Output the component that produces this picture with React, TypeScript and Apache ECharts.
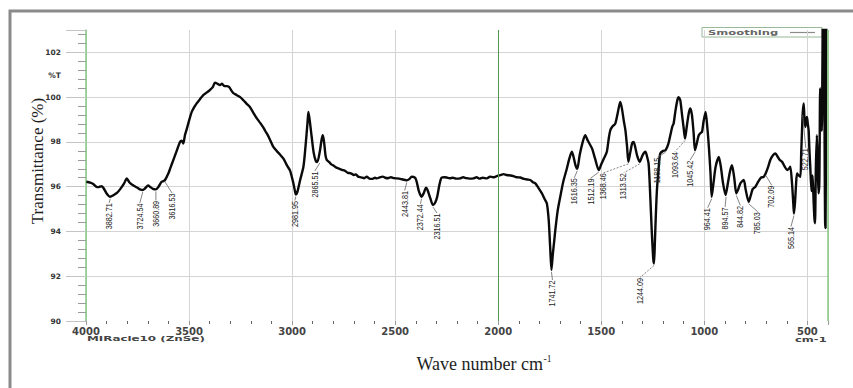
import React, { useEffect, useRef } from 'react';
import * as echarts from 'echarts';

// ---- Spectrum (wavenumber cm-1, transmittance %) ----
const waveNumbers = [
  3998, 3980, 3965, 3950, 3940, 3925, 3916, 3900, 3882.71, 3867, 3850, 3835, 3815, 3802, 3790, 3770, 3750, 3738,
  3724.54, 3714, 3698, 3690, 3675, 3660.89, 3648, 3633, 3625, 3616.53, 3600, 3590, 3576, 3560, 3544, 3535, 3528,
  3520, 3512, 3500, 3487, 3475, 3463, 3448, 3430, 3415, 3398, 3385, 3374, 3362, 3350, 3340, 3330, 3317, 3305,
  3295, 3285, 3270, 3252, 3235, 3220, 3204, 3188, 3171, 3155, 3140, 3131, 3115, 3100, 3091, 3075, 3060, 3042,
  3025, 3010, 2995, 2985, 2981.95, 2975, 2961, 2945, 2935, 2925, 2921, 2915, 2905, 2895, 2885, 2878, 2865, 2857,
  2851, 2845, 2838, 2832, 2820, 2810, 2800, 2785, 2770, 2759, 2745, 2730, 2715, 2700, 2690, 2680, 2665, 2650,
  2638, 2625, 2610, 2598, 2589, 2575, 2560, 2548, 2535, 2520, 2505, 2492, 2475, 2462, 2451, 2443.81, 2430, 2420,
  2411, 2402, 2395, 2385, 2372.44, 2362, 2350, 2343, 2330, 2316.51, 2305, 2295, 2285, 2275, 2260, 2250, 2235,
  2220, 2205, 2185, 2170, 2155, 2140, 2120, 2105, 2090, 2075, 2055, 2040, 2025, 2007, 1990, 1974, 1960, 1940,
  1926, 1910, 1893, 1875, 1860, 1845, 1832, 1820, 1805, 1788, 1775, 1764, 1755, 1748, 1741.72, 1735, 1728, 1723,
  1712, 1699, 1685, 1667, 1655, 1643, 1635, 1625, 1616.35, 1605, 1590, 1578, 1565, 1545, 1530, 1512.19, 1500,
  1485, 1473, 1463, 1456, 1445, 1432, 1420, 1408, 1400, 1390, 1383, 1375, 1368.46, 1360, 1350, 1343, 1335, 1325,
  1313.52, 1300, 1286, 1278, 1270, 1262, 1255, 1248, 1244.09, 1240, 1235, 1230, 1222, 1214, 1200, 1188.15, 1175,
  1165, 1155, 1149, 1140, 1130, 1125, 1117, 1108, 1100, 1093.64, 1085, 1075, 1068, 1060, 1052, 1045.42, 1035,
  1027, 1018, 1011, 1004, 994, 986, 978, 970, 964.41, 955, 945, 930, 920, 910, 897, 885, 875, 866, 855, 844.82,
  835, 825, 809, 800, 785.03, 775, 765, 752, 740, 725, 712, 702.09, 690, 680, 667, 655, 645, 635, 623, 610, 598,
  590, 583, 575, 568, 565.14, 560, 555, 550, 542, 534, 530, 526, 522.71, 518, 514, 510, 506, 502, 498, 494, 490,
  486, 480, 475, 470, 466, 463, 459, 454, 450, 446, 442, 438, 434, 430, 427, 424, 420, 416, 414, 412, 410, 407,
  403, 400,
];
const transmittance = [
  96.22, 96.18, 96.12, 96.0, 95.98, 96.02, 95.95, 95.7, 95.55, 95.62, 95.72, 95.88, 96.15, 96.37, 96.2, 96.05,
  95.95, 95.88, 95.85, 95.92, 96.05, 96.0, 95.9, 95.88, 96.0, 96.22, 96.25, 96.3, 96.6, 96.85, 97.2, 97.6, 98.0,
  98.05, 97.93, 98.3, 98.55, 98.95, 99.34, 99.55, 99.72, 99.9, 100.1, 100.2, 100.33, 100.45, 100.65, 100.6,
  100.54, 100.6, 100.5, 100.49, 100.45, 100.3, 100.18, 100.1, 100.0, 99.85, 99.7, 99.55, 99.3, 99.05, 98.85,
  98.65, 98.5, 98.25, 97.95, 97.78, 97.6, 97.45, 97.25, 96.95, 96.72, 96.2, 95.75, 95.65, 95.75, 96.3, 96.9,
  97.8, 98.9, 99.34, 99.0, 98.22, 97.5, 97.15, 97.1, 97.6, 98.1, 98.3, 98.0, 97.4, 97.2, 97.1, 97.0, 96.95,
  96.85, 96.8, 96.75, 96.72, 96.62, 96.6, 96.52, 96.55, 96.45, 96.42, 96.38, 96.45, 96.36, 96.35, 96.4, 96.37,
  96.42, 96.45, 96.4, 96.38, 96.42, 96.38, 96.37, 96.35, 96.32, 96.3, 96.28, 96.35, 96.45, 96.44, 96.38, 96.2,
  95.8, 95.55, 95.7, 95.95, 95.85, 95.5, 95.18, 95.3, 95.6, 96.1, 96.4, 96.42, 96.41, 96.38, 96.4, 96.36, 96.37,
  96.42, 96.38, 96.36, 96.37, 96.42, 96.36, 96.4, 96.37, 96.45, 96.42, 96.47, 96.52, 96.56, 96.52, 96.5, 96.47,
  96.42, 96.41, 96.35, 96.32, 96.3, 96.2, 96.15, 95.95, 95.7, 95.45, 95.25, 94.5, 93.3, 92.28, 93.0, 93.6, 94.06,
  94.9, 95.55, 96.2, 96.81, 97.25, 97.56, 97.35, 96.95, 96.8, 97.4, 98.0, 98.3, 98.05, 97.71, 97.25, 96.74, 97.0,
  97.3, 97.56, 98.2, 98.53, 98.7, 98.82, 99.3, 99.79, 99.5, 98.9, 98.53, 97.8, 97.11, 97.5, 97.95, 98.0, 97.75,
  97.35, 97.11, 97.4, 97.56, 97.35, 97.0, 95.5, 94.0, 92.8, 92.57, 93.5, 94.8, 95.85, 96.8, 97.48, 97.6, 97.63,
  97.9, 98.3, 98.7, 98.82, 99.4, 99.9, 100.0, 99.87, 99.2, 98.6, 98.15, 98.7, 99.3, 99.49, 99.2, 98.4, 97.63,
  98.0, 98.3, 98.4, 98.45, 98.9, 99.34, 98.7, 97.78, 96.6, 95.55, 96.2, 96.9, 97.33, 96.9, 96.2, 95.63, 96.2,
  96.7, 96.96, 96.4, 95.7, 95.9, 96.15, 96.3, 95.9, 95.33, 95.6, 95.9, 96.0, 96.2, 96.4, 96.44, 96.6, 96.9,
  97.19, 97.4, 97.48, 97.35, 97.2, 97.11, 96.9, 96.74, 96.8, 96.89, 96.2, 95.2, 94.8, 95.3, 96.1, 96.59, 96.5,
  96.44, 97.5, 98.53, 99.3, 99.72, 99.0, 98.67, 99.0, 99.12, 98.8, 98.53, 97.6, 96.89, 95.8, 96.5, 95.4, 94.6,
  94.37, 96.8, 98.3, 97.0, 95.7, 96.2, 100.4, 99.0, 98.5, 101.5, 104, 104, 97, 94.4, 94.15, 98, 104, 104, 104,
];

// ---- Peak annotations (wavenumber, transmittance at the peak) ----
const peakWaves = [
  3882.71, 3724.54, 3660.89, 3616.53, 2981.95, 2865.51, 2443.81, 2372.44, 2316.51, 1741.72, 1616.35, 1512.19,
  1368.46, 1313.52, 1244.09, 1188.15, 1093.64, 1045.42, 964.41, 894.57, 844.82, 785.03, 702.09, 565.14, 522.71,
];
const peakTrans = [
  95.55, 95.85, 95.88, 96.3, 95.65, 97.15, 96.28, 95.55, 95.18, 92.28, 96.8, 96.74, 97.11, 97.11, 92.57, 97.63,
  98.15, 97.63, 95.55, 95.63, 95.7, 95.33, 96.6, 94.8, 99.3,
];

// ---- Axis ticks ----
const yTickLabels = ['90', '92', '94', '96', '98', '100', '102'];
const xTickLabels = ['500', '1000', '1500', '2000', '2500', '3000', '3500', '4000'];

// layout of the peak labels: [dx, dy, dashed leader]
const labelLayout: [number, number, number][] = [
  [-1, 6, 0], [-3, 13, 0], [0, 11, 0], [7, 13, 0], [-1, 6, 0], [-5, 10, 0], [-2, 10, 0], [-1, 7, 0], [4, 8, 0],
  [1, 10, 0], [-3, 9, 0], [-8, 8, 0], [-25, 11, 1], [-16, 11, 1], [-14, 14, 1], [-8, 7, 0], [-10, 13, 1],
  [-5, 10, 0], [-4, 11, 0], [-1, 12, 0], [4, 12, 0], [9, 10, 0], [6, 12, 0], [-3, 13, 0], [3, 35, 0],
];

const GREEN_DARK = '#4f9a4f';
const GREEN_LIGHT = '#86c986';
const labelFont = "'Liberation Sans', 'DejaVu Sans', sans-serif";

export default function App() {
  const ref = useRef<HTMLDivElement>(null);
  useEffect(() => {
    const chart = echarts.init(ref.current as HTMLDivElement, undefined, { renderer: 'svg' });
    const spectrum = waveNumbers.map((w, i) => [w, transmittance[i]]);
    const peaks = peakWaves.map((w, i) => [w, peakTrans[i], i]);
    const option: any = {
      animation: false,
      backgroundColor: '#ffffff',
      grid: { left: 86, right: 25, top: 30, bottom: 67, containLabel: false, outerBoundsMode: 'none' },
      xAxis: {
        type: 'value',
        inverse: true,
        min: 400,
        max: 4000,
        splitNumber: 7,
        axisLine: { show: false },
        axisTick: { show: true, length: 4, lineStyle: { color: '#999' } },
        minorTick: { show: true, splitNumber: 5, length: 3, lineStyle: { color: '#666' } },
        splitLine: { show: true, lineStyle: { color: '#d4d4d4', width: 1 } },
        axisLabel: {
          margin: 5,
          fontSize: 10,
          fontWeight: 'bold',
          fontFamily: 'DejaVu Sans',
          color: '#444',
          formatter: (v: number) => (xTickLabels.indexOf(String(v)) >= 0 ? String(v) : ''),
        },
      },
      yAxis: {
        type: 'value',
        min: 90,
        max: 103,
        interval: 2,
        axisLine: { show: true, lineStyle: { color: GREEN_LIGHT, width: 1.5 } },
        axisTick: { show: true, length: 20, lineStyle: { color: '#c4c4c4' } },
        minorTick: { show: true, splitNumber: 5, length: 8, lineStyle: { color: '#9a9a9a' } },
        splitLine: { show: true, showMinLine: false, showMaxLine: false, lineStyle: { color: '#d4d4d4', width: 1 } },
        axisLabel: {
          margin: 25,
          fontSize: 7.5,
          fontWeight: 'bold',
          fontFamily: 'DejaVu Sans',
          color: '#333',
          showMaxLabel: false,
          formatter: (v: number) => (yTickLabels.indexOf(String(v)) >= 0 ? String(v) : ''),
        },
      },
      series: [
        {
          name: 'Smoothing',
          type: 'line',
          data: spectrum,
          showSymbol: false,
          symbol: 'none',
          smooth: 0.25,
          lineStyle: { color: '#0a0a0a', width: 2.4 },
          z: 3,
          markLine: {
            silent: true,
            symbol: 'none',
            label: { show: false },
            animation: false,
            data: [
              { xAxis: 2000, lineStyle: { color: GREEN_DARK, width: 1, type: 'solid' } },
              { xAxis: 400, lineStyle: { color: GREEN_LIGHT, width: 1.5, type: 'solid' } },
            ],
          },
        },
        {
          name: 'peaks',
          type: 'custom',
          data: peaks,
          clip: false,
          z: 4,
          encode: { x: 0, y: 1 },
          renderItem: (params: any, api: any) => {
            const i = params.dataIndex;
            const p = api.coord([api.value(0), api.value(1)]);
            const [dx, dy, dashed] = labelLayout[i];
            const lx = p[0] + dx;
            const ly = p[1] + dy;
            return {
              type: 'group',
              children: [
                {
                  type: 'line',
                  shape: { x1: p[0], y1: p[1] + 2, x2: lx, y2: ly },
                  style: { stroke: '#666', lineWidth: 0.8, lineDash: dashed ? [2, 1.5] : null },
                },
                {
                  type: 'text',
                  x: lx,
                  y: ly + 0.5,
                  rotation: Math.PI / 2,
                  scaleX: 0.8,
                  style: {
                    text: peakWaves[i].toFixed(2),
                    align: 'right',
                    verticalAlign: 'middle',
                    fontSize: 9,
                    fontFamily: labelFont,
                    fill: '#222',
                  },
                },
              ],
            };
          },
        },
      ],
      graphic: [
        {
          type: 'rect',
          silent: true,
          z: 0,
          shape: { x: 10, y: 11, width: 900, height: 500 },
          style: { fill: 'none', stroke: '#8a8a8a', lineWidth: 3 },
        },
        {
          type: 'text',
          x: 37,
          y: 161,
          rotation: Math.PI / 2,
          style: {
            text: 'Transmittance (%)',
            fontSize: 17,
            fontFamily: "'Liberation Serif', 'Times New Roman', serif",
            fill: '#1e1e1e',
            align: 'center',
            verticalAlign: 'middle',
          },
        },
        {
          type: 'text',
          x: 61,
          y: 75,
          style: {
            text: '%T',
            fontSize: 7.5,
            fontWeight: 'bold',
            fontFamily: 'DejaVu Sans',
            fill: '#333',
            align: 'right',
            verticalAlign: 'middle',
          },
        },
        {
          type: 'text',
          x: 543,
          y: 364,
          style: {
            text: 'Wave number cm',
            fontSize: 18,
            fontFamily: "'Liberation Serif', 'Times New Roman', serif",
            fill: '#1e1e1e',
            align: 'right',
            verticalAlign: 'middle',
          },
        },
        {
          type: 'text',
          x: 543.5,
          y: 359,
          style: {
            text: '-1',
            fontSize: 9.5,
            fontFamily: "'Liberation Serif', 'Times New Roman', serif",
            fill: '#1e1e1e',
            align: 'left',
            verticalAlign: 'middle',
          },
        },
        {
          type: 'text',
          x: 87,
          y: 338,
          scaleX: 1.7,
          style: {
            text: 'MIRacle10 (ZnSe)',
            fontSize: 7,
            fontWeight: 'bold',
            fontFamily: 'DejaVu Sans',
            fill: '#444',
            align: 'left',
            verticalAlign: 'middle',
          },
        },
        {
          type: 'text',
          x: 795,
          y: 339,
          scaleX: 1.65,
          style: {
            text: 'cm-1',
            fontSize: 7,
            fontWeight: 'bold',
            fontFamily: 'DejaVu Sans',
            fill: '#444',
            align: 'left',
            verticalAlign: 'middle',
          },
        },
        {
          type: 'group',
          z: 100,
          children: [
            {
              type: 'rect',
              shape: { x: 702, y: 27.5, width: 120, height: 9.5 },
              style: { fill: '#ffffff', stroke: '#98b898', lineWidth: 1 },
            },
            {
              type: 'text',
              x: 708,
              y: 32.5,
              scaleX: 1.65,
              style: {
                text: 'Smoothing',
                fontSize: 7,
                fontWeight: 'bold',
                fontFamily: 'DejaVu Sans',
                fill: '#666',
                align: 'left',
                verticalAlign: 'middle',
              },
            },
            {
              type: 'line',
              shape: { x1: 790, y1: 32.5, x2: 815, y2: 32.5 },
              style: { stroke: '#8a8a8a', lineWidth: 1.2 },
            },
          ],
        },
      ],
    };
    chart.setOption(option);
    return () => chart.dispose();
  }, []);
  return (
    <div
      ref={ref}
      style={{ position: 'absolute', left: 0, top: 0, width: 853, height: 388, background: '#ffffff' }}
    />
  );
}
